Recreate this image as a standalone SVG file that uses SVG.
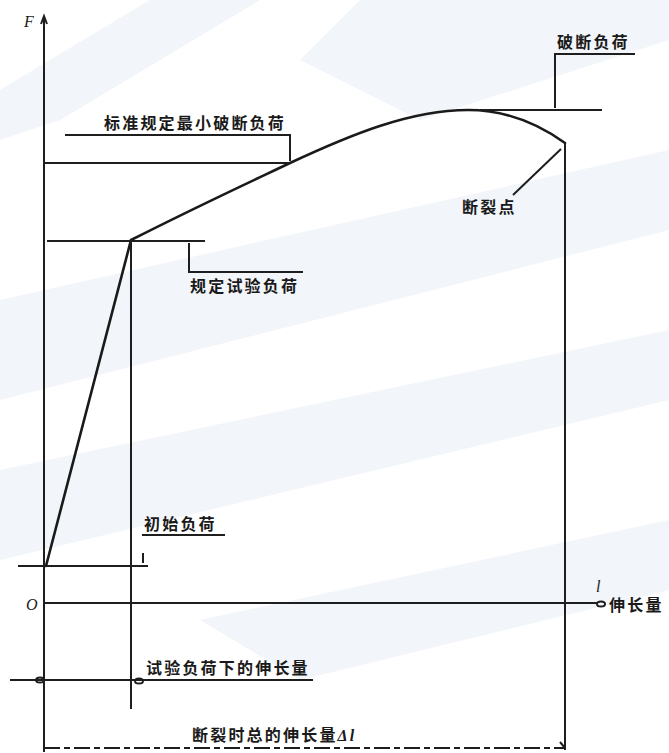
<svg xmlns="http://www.w3.org/2000/svg" width="669" height="753" viewBox="0 0 669 753">
<style>
.ln{stroke:#1e1e1e;stroke-width:2;fill:none}
.cv{stroke:#1a1a1a;stroke-width:2.6;fill:none;stroke-linecap:round}
.t{font-family:"Noto Sans CJK SC","Liberation Sans",sans-serif;font-size:16px;font-weight:bold;fill:#1a1a1a;letter-spacing:2.2px}
.it{font-family:"Liberation Serif",serif;font-style:italic;font-size:16px;fill:#1a1a1a}
.wm{fill:#e3eaf2}
</style>
<rect width="669" height="753" fill="#ffffff"/>
<g id="watermark" opacity="0.45">
<path class="wm" d="M150,0 L260,0 L60,120 L0,140 L0,90 Z"/>
<path class="wm" d="M360,0 L669,0 L669,40 L420,120 L300,60 Z"/>
<path class="wm" d="M0,300 L669,150 L669,230 L0,400 Z"/>
<path class="wm" d="M0,470 L669,330 L669,400 L0,560 Z"/>
<path class="wm" d="M200,620 L669,520 L669,590 L300,680 Z"/>
</g>
<g id="axes">
<path class="ln" d="M44,18 L44,752"/>
<path class="ln" d="M41,24 L44,16 L47,24" stroke-width="1.5"/>
<path class="ln" d="M44,603 L598,603"/>
<ellipse cx="601" cy="604" rx="4" ry="2.5" class="ln" stroke-width="1.5"/>
<text class="it" x="24" y="27">F</text>
<text class="it" x="26" y="610">O</text>
<text class="it" x="596" y="592">l</text>
<text class="t" x="609" y="611">伸长量</text>
</g>
<g id="curve">
<path class="cv" d="M46,566 L131,240 C200,205 250,182 290,163 C350,135 410,110 468,110 C508,110 540,125 565,143"/>
</g>
<g id="connectors">
<path class="ln" d="M18,566 L148,566"/>
<path class="ln" d="M131,240 L131,709"/>
<path class="ln" d="M47,241 L205,241"/>
<path class="ln" d="M44,163 L290,163"/>
<path class="ln" d="M480,110 L602,110"/>
<path class="ln" d="M565,143 L565,750"/>
<path class="ln" d="M10,680 L313,680"/>
<path class="ln" d="M44,748 L565,748" stroke-dasharray="16,4,6,4"/>
<path class="ln" d="M560,742 L565,748" stroke-width="1.5"/>
</g>
<g id="label-min-break">
<path class="ln" d="M65,135 L290,135 L290,161" stroke-width="1.8"/>
<text class="t" x="104" y="129">标准规定最小破断负荷</text>
</g>
<g id="label-break-load">
<path class="ln" d="M635,54 L555,54 L555,108" stroke-width="1.8"/>
<text class="t" x="557" y="48">破断负荷</text>
</g>
<g id="label-break-point">
<path class="ln" d="M561,149 L513,195" stroke-width="1.8"/>
<text class="t" x="462" y="213">断裂点</text>
</g>
<g id="label-test-load">
<path class="ln" d="M189,243 L189,272 L303,272" stroke-width="1.8"/>
<text class="t" x="190" y="292">规定试验负荷</text>
</g>
<g id="label-initial-load">
<path class="ln" d="M142,535 L225,535" stroke-width="1.8"/>
<path class="ln" d="M143,553 L143,563" stroke-width="1.8"/>
<text class="t" x="144" y="530">初始负荷</text>
</g>
<g id="label-elong-test">
<ellipse cx="40" cy="680" rx="4" ry="2.5" class="ln" stroke-width="1.5"/>
<ellipse cx="139" cy="681" rx="4" ry="2.5" class="ln" stroke-width="1.5"/>
<text class="t" x="146" y="674">试验负荷下的伸长量</text>
</g>
<g id="label-elong-break">
<text class="t" x="192" y="741">断裂时总的伸长量<tspan font-family="Liberation Serif,serif" font-style="italic">Δl</tspan></text>
</g>
</svg>
